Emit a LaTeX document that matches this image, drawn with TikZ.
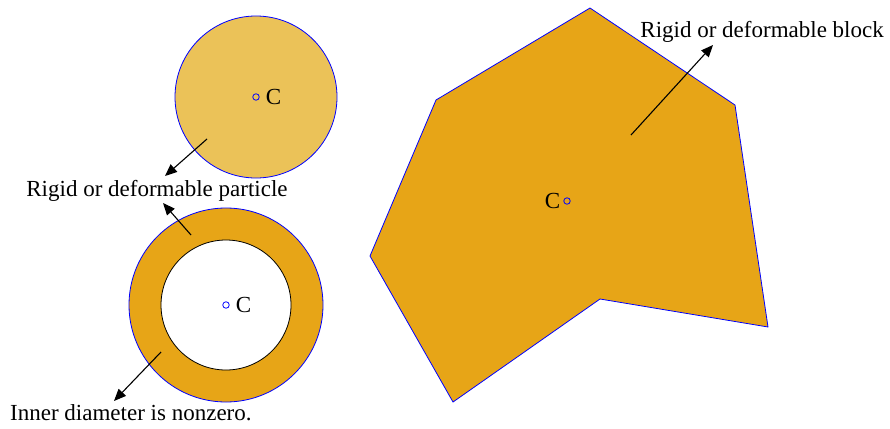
\documentclass[tikz,border=0pt]{standalone}
\usepackage{fontspec}
\setmainfont{Liberation Serif}
\usetikzlibrary{arrows.meta,positioning}

\definecolor{particlefill}{RGB}{235,194,88}
\definecolor{blockfill}{RGB}{231,165,23}

\begin{document}
\begin{tikzpicture}[
  x=1pt, y=-1pt,
  every node/.style={font=\fontsize{23}{27}\selectfont, inner sep=0pt},
  outline/.style={draw=blue, line width=0.8pt},
  centre/.style={circle, draw=blue, line width=0.8pt, minimum size=6.5pt},
  pointer/.style={-{Triangle[length=12pt,width=10pt]}, line width=1.1pt}
]
\useasboundingbox (0,0) rectangle (890,428);

% solid particle
\filldraw[outline, fill=particlefill] (256,97) circle[radius=81];
\node[centre] (c1) at (256,97) {};
\node[right=6pt of c1] (l1) {C};

% hollow particle
\fill[blockfill, even odd rule] (226,305) circle[radius=97] (226,305) circle[radius=65];
\draw[outline] (226,305) circle[radius=97];
\draw[black, line width=0.8pt] (226,305) circle[radius=65];
\node[centre] (c2) at (226,305) {};
\node[right=6pt of c2] (l2) {C};

% block
\filldraw[outline, fill=blockfill] (590,8) -- (735,105) -- (768,327) -- (600,299)
  -- (453,402) -- (370,256) -- (436,100) -- cycle;
\node[centre] (c3) at (567,201) {};
\node[left=3pt of c3] (l3) {C};

% labels
\node (lblpart) at (157,191) {Rigid or deformable particle};
\node[anchor=west] (lblinner) at (10,413) {Inner diameter is nonzero.};
\node[anchor=east] (lblblock) at (884,32) {Rigid or deformable block};

\coordinate (t1) at (207,139);
\coordinate (h1) at (165,176);
\coordinate (t2) at (191,235);
\coordinate (h2) at (163,203);
\coordinate (t3) at (161,352);
\coordinate (h3) at (114,401);
\coordinate (t4) at (631,135);
\coordinate (h4) at (713,45);

\draw[pointer] (t1) -- (h1);
\draw[pointer] (t2) -- (h2);
\draw[pointer] (t3) -- (h3);
\draw[pointer] (t4) -- (h4);

\end{tikzpicture}
\end{document}
